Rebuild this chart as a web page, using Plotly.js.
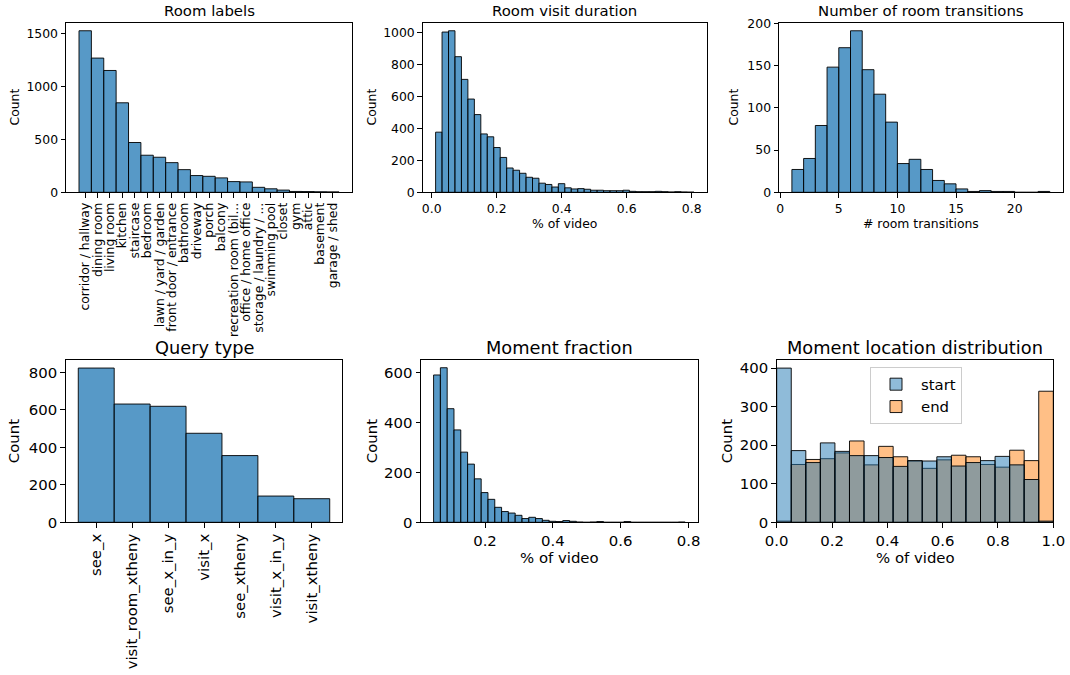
<!DOCTYPE html>
<html>
<head>
<meta charset="utf-8">
<script src="https://cdn.plot.ly/plotly-3.0.1.min.js"></script>
<style>html,body{margin:0;padding:0;background:#fff;}#chart{width:1070px;height:675px;}</style>
</head>
<body>
<div id="chart"></div>
<script>
// ---------------- data ----------------
const roomLabels = ["corridor / hallway","dining room","living room","kitchen","staircase","bedroom",
  "lawn / yard / garden","front door / entrance","bathroom","driveway","porch","balcony",
  "recreation room (bil...","office / home office","storage / laundry / ...","swimming pool",
  "closet","gym","attic","basement","garage / shed"];
const roomCounts = [1525,1267,1150,845,470,350,331,280,214,158,151,136,101,98,47,33,21,8,7,5,4];

const durationBinLo = 0.012, durationBinHi = 0.807;
const durationCounts = [376,1002,1010,848,706,583,486,365,347,280,218,152,138,119,94,88,57,49,33,54,
  28,21,23,19,13,13,10,10,10,13,6,4,4,4,6,4,2,4,2,1];

const transBinLo = 1, transBinHi = 23;
const transCounts = [27,40,79,148,171,191,145,116,83,34,39,27,14,10,4,1,2,1,1,0,0,1];

const queryLabels = ["see_x","visit_room_xtheny","see_x_in_y","visit_x","see_xtheny","visit_x_in_y","visit_xtheny"];
const queryCounts = [823,631,619,475,356,140,126];

const fracBinLo = 0.0484, fracBinHi = 0.790;
const fracCounts = [590,619,455,370,281,233,174,119,92,60,43,37,28,15,20,15,8,4,3,7,4,1,0,1,3,0,0,0,3,0,0,0,0,0,0,0,1];

const locBinLo = 0, locBinHi = 1;
const startCounts = [400,186,155,206,184,173,173,168,145,160,159,170,146,155,160,171,149,111,3];
const endCounts   = [3,150,163,165,180,211,149,197,170,159,140,162,174,170,150,143,187,160,340];

// ---------------- helpers ----------------
function binCenters(lo, hi, n){ const w=(hi-lo)/n; return Array.from({length:n},(_,i)=>lo+(i+0.5)*w); }
function binWidth(lo, hi, n){ return (hi-lo)/n; }

const FONT = 'DejaVu Sans, Verdana, sans-serif';
const C0 = 'rgba(31,119,180,0.75)';
const EDGE = {color:'rgba(0,0,0,0.9)', width:1};

function ax(fs, extra){
  return Object.assign({
    showline:true, mirror:true, linecolor:'black', linewidth:1,
    ticks:'outside', ticklen:4.5, tickwidth:1, tickcolor:'black',
    showgrid:false, zeroline:false, fixedrange:true,
    tickfont:{family:FONT, size:fs, color:'black'}
  }, extra);
}

// domains (paper fractions)
const W=1070, H=675;
const topY = [1-192.3/H, 1-22.7/H];
const botY = [1-522.3/H, 1-360/H];
const dTL = [66/W, 352/W], dTM = [422.7/W, 707/W], dTR = [779/W, 1062.7/W];
const dBL = [65.7/W, 342.3/W], dBM = [421/W, 697.7/W], dBR = [776.7/W, 1053.3/W];

const traces = [
  {type:'bar', x:roomLabels, y:roomCounts, width:1, marker:{color:C0, line:EDGE}, xaxis:'x', yaxis:'y', showlegend:false, hoverinfo:'x+y'},
  {type:'bar', x:binCenters(durationBinLo,durationBinHi,durationCounts.length), y:durationCounts,
   width:binWidth(durationBinLo,durationBinHi,durationCounts.length), marker:{color:C0, line:EDGE}, xaxis:'x2', yaxis:'y2', showlegend:false},
  {type:'bar', x:binCenters(transBinLo,transBinHi,transCounts.length), y:transCounts,
   width:binWidth(transBinLo,transBinHi,transCounts.length), marker:{color:C0, line:EDGE}, xaxis:'x3', yaxis:'y3', showlegend:false},
  {type:'bar', x:queryLabels, y:queryCounts, width:1, marker:{color:C0, line:EDGE}, xaxis:'x4', yaxis:'y4', showlegend:false},
  {type:'bar', x:binCenters(fracBinLo,fracBinHi,fracCounts.length), y:fracCounts,
   width:binWidth(fracBinLo,fracBinHi,fracCounts.length), marker:{color:C0, line:EDGE}, xaxis:'x5', yaxis:'y5', showlegend:false},
  {type:'bar', name:'end', x:binCenters(locBinLo,locBinHi,endCounts.length), y:endCounts,
   width:binWidth(locBinLo,locBinHi,endCounts.length), marker:{color:'rgba(255,127,14,0.5)', line:EDGE}, xaxis:'x6', yaxis:'y6'},
  {type:'bar', name:'start', x:binCenters(locBinLo,locBinHi,startCounts.length), y:startCounts,
   width:binWidth(locBinLo,locBinHi,startCounts.length), marker:{color:'rgba(31,119,180,0.5)', line:EDGE}, xaxis:'x6', yaxis:'y6'}
];

const TS=12.4, BS=14.9, TT=14.9, BT=17.8;
function ann(text, x, y, size, extra){
  return Object.assign({text:text, x:x, y:y, xref:'paper', yref:'paper', showarrow:false,
    xanchor:'center', yanchor:'middle', font:{family:FONT, size:size, color:'black'}}, extra||{});
}
const mid = d => (d[0]+d[1])/2;

const layout = {
  width:W, height:H, margin:{l:0,r:0,t:0,b:0},
  paper_bgcolor:'white', plot_bgcolor:'white',
  barmode:'overlay', bargap:0,
  font:{family:FONT, color:'black'},
  xaxis: ax(TS,{domain:dTL, anchor:'y', type:'category', tickangle:-90, range:[-1.55,21.55],
    tickmode:'array', tickvals:roomLabels, ticktext:roomLabels}),
  yaxis: ax(TS,{domain:topY, anchor:'x', range:[0,1601], tickvals:[0,500,1000,1500]}),
  xaxis2: ax(TS,{domain:dTM, anchor:'y2', range:[-0.0277,0.847], tickvals:[0,0.2,0.4,0.6,0.8], tickformat:'.1f'}),
  yaxis2: ax(TS,{domain:topY, anchor:'x2', range:[0,1060.5], tickvals:[0,200,400,600,800,1000]}),
  xaxis3: ax(TS,{domain:dTR, anchor:'y3', range:[-0.1,24.1], tickvals:[0,5,10,15,20]}),
  yaxis3: ax(TS,{domain:topY, anchor:'x3', range:[0,200.55], tickvals:[0,50,100,150,200]}),
  xaxis4: ax(BS,{domain:dBL, anchor:'y4', type:'category', tickangle:-90, range:[-0.85,6.85],
    tickmode:'array', tickvals:queryLabels, ticktext:queryLabels}),
  yaxis4: ax(BS,{domain:botY, anchor:'x4', range:[0,866], tickvals:[0,200,400,600,800]}),
  xaxis5: ax(BS,{domain:dBM, anchor:'y5', range:[0.0113,0.827], tickvals:[0.2,0.4,0.6,0.8], tickformat:'.1f'}),
  yaxis5: ax(BS,{domain:botY, anchor:'x5', range:[0,650], tickvals:[0,200,400,600]}),
  xaxis6: ax(BS,{domain:dBR, anchor:'y6', range:[0,1], tickvals:[0,0.2,0.4,0.6,0.8,1.0], tickformat:'.1f'}),
  yaxis6: ax(BS,{domain:botY, anchor:'x6', range:[0,421], tickvals:[0,100,200,300,400]}),
  showlegend:true,
  legend:{x:870/W, y:1-367/H, xanchor:'left', yanchor:'top', traceorder:'reversed',
    bgcolor:'rgba(255,255,255,0.8)', bordercolor:'#cccccc', borderwidth:1,
    font:{family:FONT, size:BS, color:'black'}, itemwidth:40},
  annotations:[
    ann('Room labels', mid(dTL), 1-11/H, TT),
    ann('Room visit duration', mid(dTM), 1-11/H, TT),
    ann('Number of room transitions', mid(dTR), 1-11/H, TT),
    ann('Query type', mid(dBL), 1-347/H, BT),
    ann('Moment fraction', mid(dBM), 1-347/H, BT),
    ann('Moment location distribution', mid(dBR), 1-347/H, BT),
    ann('Count', 14/W, mid(topY), TS, {textangle:-90}),
    ann('Count', 371/W, mid(topY), TS, {textangle:-90}),
    ann('Count', 733/W, mid(topY), TS, {textangle:-90}),
    ann('Count', 14/W, mid(botY), BS, {textangle:-90}),
    ann('Count', 372/W, mid(botY), BS, {textangle:-90}),
    ann('Count', 727/W, mid(botY), BS, {textangle:-90}),
    ann('% of video', mid(dTM), 1-223/H, TS),
    ann('# room transitions', mid(dTR), 1-223/H, TS),
    ann('% of video', mid(dBM), 1-558/H, BS),
    ann('% of video', mid(dBR), 1-558/H, BS)
  ]
};

Plotly.newPlot('chart', traces, layout, {displayModeBar:false, staticPlot:true});
</script>
</body>
</html>
